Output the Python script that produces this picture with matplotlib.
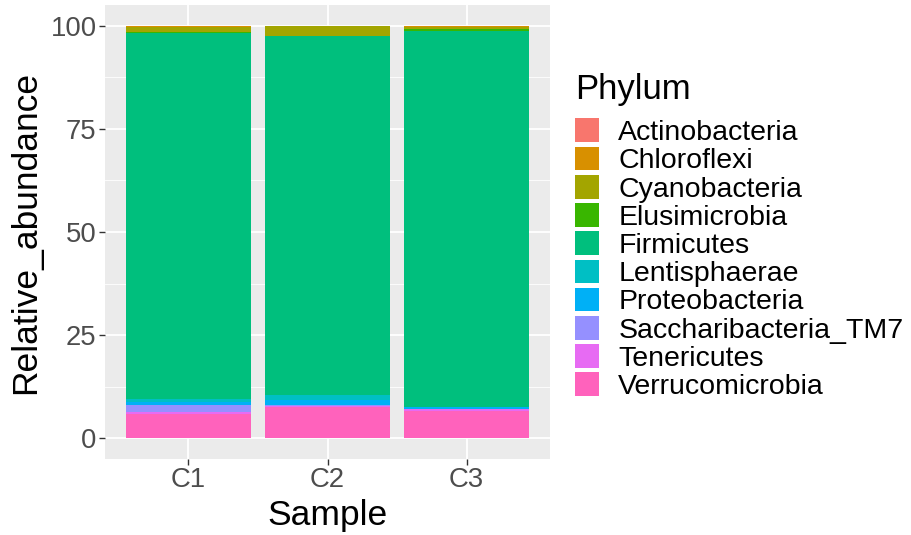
import matplotlib
matplotlib.use("Agg")
import matplotlib.pyplot as plt
from matplotlib.patches import Patch
import numpy as np

plt.rcParams['font.family'] = ['Liberation Sans', 'DejaVu Sans']

samples = ["C1", "C2", "C3"]
phyla = ["Actinobacteria", "Chloroflexi", "Cyanobacteria", "Elusimicrobia",
         "Firmicutes", "Lentisphaerae", "Proteobacteria",
         "Saccharibacteria_TM7", "Tenericutes", "Verrucomicrobia"]
colors = ["#F8766D", "#D89000", "#A3A500", "#39B600", "#00BF7D",
          "#00BFC4", "#00B0F6", "#9590FF", "#E76BF3", "#FF62BC"]

Actinobacteria = [0.1, 0.1, 0.1]
Chloroflexi = [0.2, 0.1, 0.2]
Cyanobacteria = [1.3, 2.3, 0.6]
Elusimicrobia = [0.1, 0.1, 0.5]
Firmicutes = [88.8, 86.8, 90.9]
Lentisphaerae = [0.6, 1.2, 0.2]
Proteobacteria = [0.8, 1.3, 0.3]
Saccharibacteria_TM7 = [1.8, 0.2, 0.2]
Tenericutes = [0.3, 0.2, 0.4]
Verrucomicrobia = [6.0, 7.7, 6.6]

values = [Actinobacteria, Chloroflexi, Cyanobacteria, Elusimicrobia, Firmicutes,
          Lentisphaerae, Proteobacteria, Saccharibacteria_TM7, Tenericutes,
          Verrucomicrobia]

fig = plt.figure(figsize=(9.11, 5.35), dpi=100)
ax = fig.add_axes([105/911, (535-459)/535, (550-105)/911, (459-5)/535])
ax.set_facecolor("#EBEBEB")

x = np.arange(1, len(samples) + 1)
bottom = np.zeros(len(samples))
# stack from last phylum (bottom) to first (top), like ggplot
for name, vals, col in reversed(list(zip(phyla, values, colors))):
    v = np.array(vals)
    ax.bar(x, v, bottom=bottom, width=0.9, color=col, linewidth=0, zorder=3)
    bottom += v

ax.set_xlim(0.4, 3.6)
ax.set_ylim(-5, 105)
ax.set_xticks(x)
ax.set_xticklabels(samples)
ax.set_yticks([0, 25, 50, 75, 100])
ax.set_yticks([12.5, 37.5, 62.5, 87.5], minor=True)
ax.grid(True, which='major', color='white', linewidth=1.3, zorder=0)
ax.grid(True, which='minor', axis='y', color='white', linewidth=0.6, zorder=0)
ax.set_axisbelow(True)
for s in ax.spines.values():
    s.set_visible(False)
ax.tick_params(axis='both', which='major', color='#333333', length=4, width=1,
               labelsize=19.8, labelcolor='#4D4D4D', pad=2)
ax.tick_params(axis='both', which='minor', length=0)

ax.set_xlabel("Sample", fontsize=25.5, color='black', labelpad=4)
ax.set_ylabel("Relative_abundance", fontsize=25.5, color='black', labelpad=6)

handles = [Patch(facecolor=c, edgecolor='none') for c in colors]
leg = fig.legend(handles, phyla, loc='upper left', bbox_to_anchor=(575/911, 1 - 73/535),
                 frameon=False, fontsize=20.5, title="Phylum", title_fontsize=25,
                 labelspacing=0.02, handlelength=0.84, handleheight=0.9,
                 handletextpad=0.68, borderpad=0, borderaxespad=0)
leg._legend_box.align = "left"
leg._legend_box.sep = 9

fig.savefig("out.png", dpi=100)
